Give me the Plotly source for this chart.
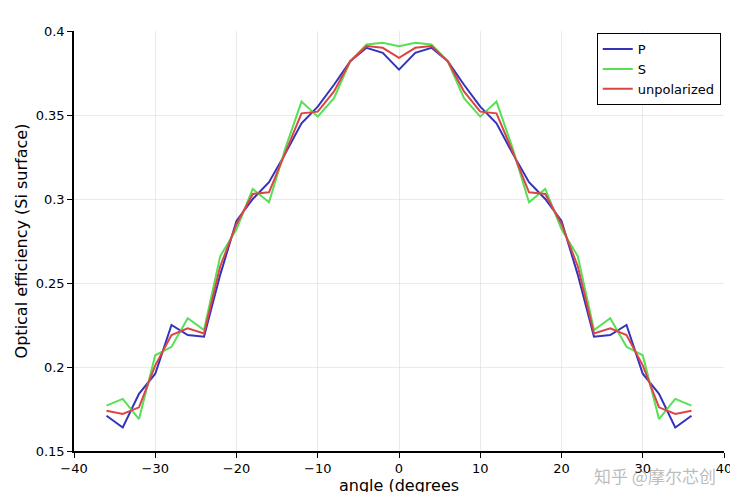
import plotly.graph_objects as go

angle_left = [-36, -34, -32, -30, -28, -26, -24, -22, -20, -18, -16, -14, -12, -10, -8, -6, -4, -2, 0]
p_left = [0.171, 0.164, 0.184, 0.196, 0.225, 0.219, 0.218, 0.255, 0.287, 0.300, 0.310, 0.327, 0.345,
          0.355, 0.368, 0.382, 0.390, 0.387, 0.377]
s_left = [0.177, 0.181, 0.169, 0.207, 0.212, 0.229, 0.222, 0.266, 0.282, 0.306, 0.298, 0.330, 0.358,
          0.349, 0.360, 0.382, 0.392, 0.393, 0.391]
u_left = [0.174, 0.172, 0.176, 0.201, 0.219, 0.223, 0.220, 0.260, 0.285, 0.303, 0.304, 0.328, 0.351,
          0.352, 0.364, 0.382, 0.391, 0.390, 0.384]

# curves are mirror-symmetric about 0 degrees
angle = angle_left + [-a for a in angle_left[-2::-1]]
p_eff = p_left + p_left[-2::-1]
s_eff = s_left + s_left[-2::-1]
u_eff = u_left + u_left[-2::-1]

fig = go.Figure()
for name, vals, color in [("P", p_eff, "#3333bb"), ("S", s_eff, "#55e055"), ("unpolarized", u_eff, "#dd4444")]:
    fig.add_trace(go.Scatter(x=angle, y=vals, name=name, mode="lines",
                             line=dict(color=color, width=2)))

axis_style = dict(showgrid=True, gridcolor="rgba(220,220,220,0.6)", zeroline=False,
                  showline=True, linecolor="black", linewidth=1.5, ticks="outside",
                  tickcolor="black", ticklen=5, mirror=False,
                  tickfont=dict(family="DejaVu Sans", size=13, color="black"))
fig.update_layout(
    width=738, height=492, plot_bgcolor="white", paper_bgcolor="white",
    margin=dict(l=62, r=22, t=23, b=48),
    font=dict(family="DejaVu Sans", color="black"),
    legend=dict(x=0.995, y=0.995, xanchor="right", yanchor="top", bordercolor="black",
                borderwidth=1, bgcolor="white", font=dict(size=13)),
    xaxis=dict(range=[-40, 40], dtick=10, title=dict(text="angle (degrees", font=dict(size=16),
               standoff=0), **axis_style),
    yaxis=dict(range=[0.15, 0.4], dtick=0.05,
               title=dict(text="Optical efficiency (Si surface)", font=dict(size=16), standoff=4),
               **axis_style),
)
fig.add_annotation(text="知乎 @摩尔芯创", xref="paper", yref="paper", x=0.99, y=-0.025,
                   xanchor="right", yanchor="top", showarrow=False,
                   font=dict(family="Noto Sans CJK SC", size=17, color="rgba(120,120,120,0.5)"))
fig.write_html("out.html")
